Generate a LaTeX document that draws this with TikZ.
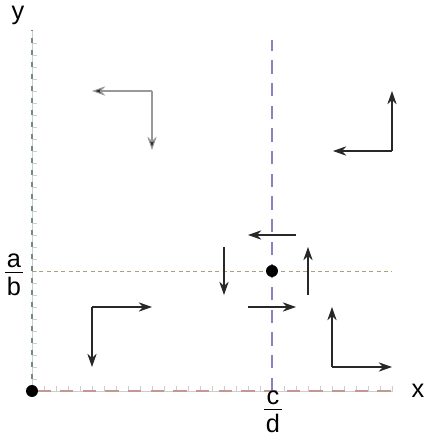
\documentclass[tikz,border=0pt]{standalone}
\usepackage{amsmath}
\usepackage{fontspec}
\setmainfont{Liberation Sans}
\usetikzlibrary{arrows.meta}
\definecolor{xaxis}{RGB}{196,150,150}
\definecolor{yaxis}{RGB}{110,140,130}
\definecolor{vline}{RGB}{140,128,190}
\definecolor{hline}{RGB}{172,160,122}
\definecolor{tick}{RGB}{205,205,205}
\definecolor{ink}{RGB}{40,40,40}
\tikzset{
  lbl/.style={font=\fontsize{19}{22}\selectfont, inner sep=0pt},
  vec/.style={-{Stealth[length=10pt,width=7pt]}, ink, line width=0.8pt},
  vecgray/.style={vec, draw=black!40, -{Stealth[length=10pt,width=7pt,fill=ink]}},
  dot/.style={circle, fill=black, inner sep=0pt, minimum size=9pt},
}
\newcommand{\frc}[2]{\ensuremath{\genfrac{}{}{0.9pt}{1}%
  {\mbox{\rule[-2.5pt]{0pt}{1pt}\kern1.2pt#1\kern1.2pt}}%
  {\mbox{\rule{0pt}{16pt}\kern1.2pt#2\kern1.2pt}}}}

\begin{document}
\begin{tikzpicture}[x=0.75pt,y=0.75pt]
  \useasboundingbox (-32,-46) rectangle (393,391);
  % axes
  \coordinate (xend) at (360,0);
  \coordinate (yend) at (0,361);
  \draw[tick,line width=0.6pt] (0,0) -- (xend);
  \draw[tick,line width=0.6pt] (0,0) -- (yend);
  \foreach \t in {12,24,...,360} {
    \draw[tick,line width=0.6pt] (\t,-1) -- (\t,5);
  }
  \foreach \t in {12,24,...,356} {
    \draw[tick,line width=0.6pt] (0,\t) -- (5,\t);
  }
  \draw[xaxis,line width=0.8pt,dash pattern=on 10pt off 7pt,dash phase=-4pt] (0,0) -- (xend);
  \draw[yaxis,line width=0.8pt,dash pattern=on 4pt off 5pt] (0,0) -- (yend);
  \node[lbl] (xl) at (386,0) {x};
  \node[lbl] (yl) at (-14,376) {y};
  % guide lines through the fixed point
  \node[dot] (origin) at (0,0) {};
  \coordinate (vtop) at (240,351);
  \coordinate (vbot) at (240,0);
  \coordinate (hleft) at (0,120);
  \coordinate (hright) at (360,120);
  \draw[vline,line width=0.8pt,dash pattern=on 10pt off 7pt] (vbot) -- (vtop);
  \draw[hline,line width=0.6pt,dash pattern=on 3pt off 2.5pt] (hleft) -- (hright);
  \node[dot] (fix) at (240,120) {};
  \node[lbl,anchor=center] (ab) at (-18,116) {\frc{a}{b}};
  \node[lbl,anchor=center] (cd) at (241,-20.5) {\frc{c}{d}};
  % quadrant arrows
  \coordinate (tl) at (120,300);
  \draw[vecgray] (tl) -- (60,300);
  \draw[vecgray] (tl) -- (120,241);
  \coordinate (tr) at (360,240);
  \draw[vec] (tr) -- (301,240);
  \draw[vec] (tr) -- (360,300);
  \coordinate (bl) at (60,84);
  \draw[vec] (bl) -- (120,84);
  \draw[vec] (bl) -- (60,24);
  \coordinate (br) at (300,24);
  \draw[vec] (br) -- (360,24);
  \draw[vec] (br) -- (300,84);
  % arrows around the fixed point
  \draw[vec] (264,156) -- (216,156);
  \draw[vec] (192,144) -- (192,96);
  \draw[vec] (276,96) -- (276,144);
  \draw[vec] (216,84) -- (264,84);
\end{tikzpicture}
\end{document}
